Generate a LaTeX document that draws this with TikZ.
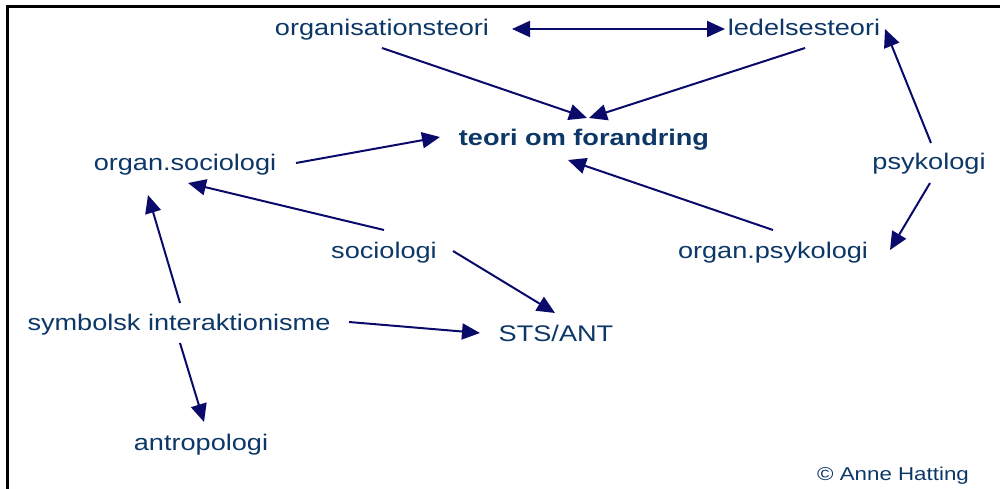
\documentclass[tikz,border=0pt]{standalone}
\usepackage{fontspec}
\setmainfont{Liberation Sans}[FakeStretch=1.2]
\usetikzlibrary{arrows.meta}
\definecolor{labelblue}{HTML}{0C3766}
\definecolor{arrowblue}{HTML}{0A0A6B}
\begin{document}
\begin{tikzpicture}[x=1pt,y=-1pt,
  term/.style={anchor=base,inner sep=0pt,text=labelblue,font=\fontsize{22.6}{27}\selectfont},
  mainterm/.style={term,font=\fontsize{22.6}{27}\selectfont\bfseries},
  credit/.style={anchor=base,inner sep=0pt,text=labelblue,font=\fontsize{18.6}{22}\selectfont},
  link/.style={draw=arrowblue,line width=2pt,-{Triangle[length=18pt,width=16pt]}},
  duallink/.style={link,{Triangle[length=18pt,width=16pt]}-{Triangle[length=18pt,width=16pt]}}]
\useasboundingbox (0,0) rectangle (1000,489);
% frame (left and top edges)
\draw[black,line width=3pt] (7,495) -- (7,7) -- (1005,7);

% terms
\node[term] (orgteori) at (382,36) {organisationsteori};
\node[term] (ledelse) at (804,36) {ledelsesteori};
\node[mainterm] (teori) at (584,146) {teori om forandring};
\node[term] (orgsoc) at (185,171) {organ.sociologi};
\node[term] (psyk) at (929,169) {psykologi};
\node[term] (socio) at (384,258) {sociologi};
\node[term] (orgpsyk) at (773,258) {organ.psykologi};
\node[term] (symb) at (179,330) {symbolsk interaktionisme};
\node[term] (sts) at (556,341) {STS/ANT};
\node[term] (antro) at (201,450) {antropologi};
\node[credit] (credit) at (893,480) {© Anne Hatting};

% connectors
\draw[duallink] ([shift={(130,-7)}]orgteori.base) -- ([shift={(-79,-7)}]ledelse.base);
\draw[link] ([shift={(0,12)}]orgteori.base) -- ([shift={(3,-28)}]teori.base);
\draw[link] ([shift={(1,12)}]ledelse.base) -- ([shift={(5,-28)}]teori.base);
\draw[link] ([shift={(111,-8)}]orgsoc.base) -- ([shift={(-144,-9)}]teori.base);
\draw[link] ([shift={(0,-28)}]socio.base) -- ([shift={(3,12)}]orgsoc.base);
\draw[link] ([shift={(1,-27)}]symb.base) -- ([shift={(-37,24)}]orgsoc.base);
\draw[link] ([shift={(1,13)}]symb.base) -- ([shift={(3,-28)}]antro.base);
\draw[link] ([shift={(170,-8)}]symb.base) -- ([shift={(-76,-8)}]sts.base);
\draw[link] ([shift={(69,-7)}]socio.base) -- ([shift={(-1,-28)}]sts.base);
\draw[link] ([shift={(2,-26)}]psyk.base) -- ([shift={(-44,-7)}]psyk.base |- ledelse.base);
\draw[link] ([shift={(1,14)}]psyk.base) -- ([shift={(117,-8)}]orgpsyk.base);
\draw[link] ([shift={(0,-28)}]orgpsyk.base) -- ([shift={(-16,14)}]teori.base);
\end{tikzpicture}
\end{document}
